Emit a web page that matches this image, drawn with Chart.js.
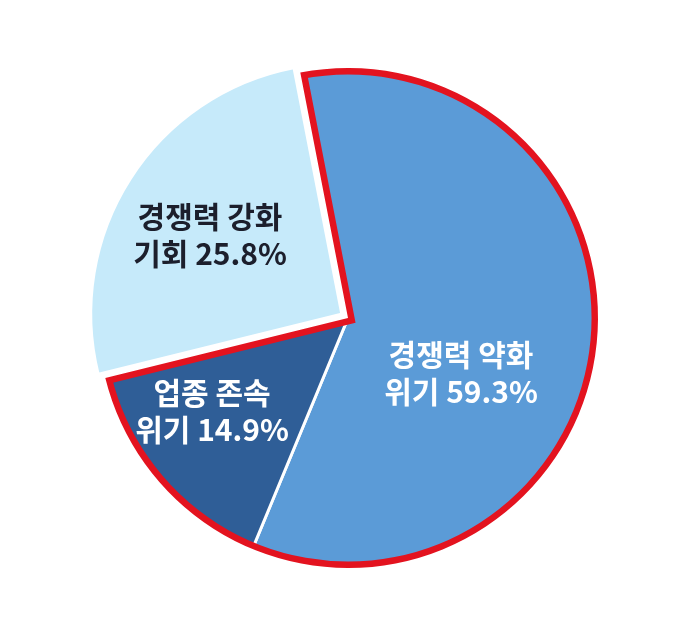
<!DOCTYPE html>
<html>
<head>
<meta charset="utf-8">
<script src="https://cdn.jsdelivr.net/npm/chart.js@4.4.1/dist/chart.umd.min.js"></script>
<style>
  html, body { margin: 0; padding: 0; background: #ffffff; }
  #wrap { width: 690px; height: 624px; }
</style>
</head>
<body>
<div id="wrap"><canvas id="c" width="690" height="624"></canvas></div>
<script>
// ---- data ----
const categories = ['경쟁력 약화 위기', '업종 존속 위기', '경쟁력 강화 기회'];
const labelLine1 = ['경쟁력 약화', '업종 존속', '경쟁력 강화'];
const labelLine2 = ['위기', '위기', '기회'];
const values = [59.3, 14.9, 25.8];

// ---- style ----
const fillColors = ['#5b9bd7', '#2f5e97', '#c6eafa'];
const textColors = ['#ffffff', '#ffffff', '#1c1f2c'];
const labelOffsets = [[113, 55], [-136, 93], [-138, -83]]; // label centre relative to pie centre
const redColor = '#e3131f';

const redOutline = {
  id: 'redOutline',
  afterDatasetsDraw(chart) {
    const meta = chart.getDatasetMeta(0);
    const a0 = meta.data[0], a1 = meta.data[1];
    const p0 = a0.getProps(['x', 'y', 'startAngle', 'outerRadius'], true);
    const p1 = a1.getProps(['endAngle'], true);
    const ctx = chart.ctx;
    ctx.save();
    ctx.beginPath();
    ctx.moveTo(p0.x, p0.y);
    ctx.arc(p0.x, p0.y, p0.outerRadius, p0.startAngle, p1.endAngle);
    ctx.closePath();
    ctx.clip();
    ctx.lineWidth = 13;
    ctx.strokeStyle = redColor;
    ctx.lineJoin = 'miter';
    ctx.stroke();
    ctx.restore();
  }
};

const sliceLabels = {
  id: 'sliceLabels',
  afterDraw(chart) {
    const meta = chart.getDatasetMeta(0);
    const ctx = chart.ctx;
    const c = meta.data[0].getProps(['x', 'y'], true);
    ctx.save();
    ctx.textAlign = 'center';
    ctx.textBaseline = 'middle';
    ctx.font = 'bold 30px "Noto Sans CJK KR", "Noto Sans", sans-serif';
    values.forEach((v, i) => {
      const x = c.x + labelOffsets[i][0];
      const y = c.y + labelOffsets[i][1];
      ctx.fillStyle = textColors[i];
      ctx.fillText(labelLine1[i], x, y - 18.5);
      ctx.fillText(labelLine2[i] + ' ' + v.toFixed(1) + '%', x, y + 18.5);
    });
    ctx.restore();
  }
};

new Chart(document.getElementById('c'), {
  type: 'pie',
  data: {
    labels: categories,
    datasets: [{
      data: values,
      backgroundColor: fillColors,
      borderColor: '#ffffff',
      borderWidth: [3, 3, 2],
      offset: [0, 0, 32]
    }]
  },
  options: {
    responsive: false,
    animation: false,
    rotation: -11,
    radius: 250,
    layout: { padding: { left: 6, right: 0, top: 12, bottom: 0 } },
    plugins: {
      legend: { display: false },
      tooltip: { enabled: false }
    }
  },
  plugins: [redOutline, sliceLabels]
});
</script>
</body>
</html>
